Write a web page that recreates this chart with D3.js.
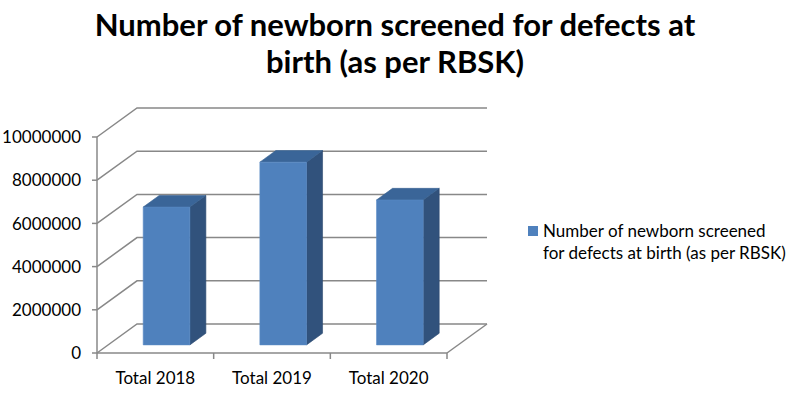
<!DOCTYPE html>
<html><head><meta charset="utf-8">
<script src="https://cdn.jsdelivr.net/npm/d3@7"></script>
<style>body{margin:0;background:#fff}svg{display:block}text{font-family:Lato,"Open Sans",sans-serif}</style>
</head><body><svg id="c" width="798" height="402"></svg>
<script>
const categories = ["Total 2018", "Total 2019", "Total 2020"];
const values = [6380000, 8460000, 6710000];
const tickValues = [0, 2000000, 4000000, 6000000, 8000000, 10000000];
const seriesName = "Number of newborn screened for defects at birth (as per RBSK)";
const titleLines = ["Number of newborn screened for defects at", "birth (as per RBSK)"];

const svg = d3.select("#c");
const x0 = 97, x1 = 447;
const ddx = 40, ddy = -29;
const y = d3.scaleLinear().domain([0, 10000000]).range([353, 137]);
const x = d3.scaleBand().domain(categories).range([x0, x1]).paddingInner(0.6).paddingOuter(0.3);
const xb = d3.scaleBand().domain(categories).range([x0, x1]);
const P = (px, v, z) => [px + ddx * z, y(v) + ddy * z];
const grid = "#888888";

// walls / gridlines
tickValues.forEach(t => {
  const a = P(x0, t, 0), b = P(x0, t, 1), c = P(x1, t, 1);
  svg.append("polyline").attr("points", [a, b, c].map(p => p.join(",")).join(" "))
    .attr("fill", "none").attr("stroke", grid).attr("stroke-width", 1.5);
});
{
  const a = P(x1, 0, 0), b = P(x1, 0, 1);
  svg.append("line").attr("x1", a[0]).attr("y1", a[1]).attr("x2", b[0]).attr("y2", b[1]).attr("stroke", grid).attr("stroke-width", 1.5);
}
svg.append("line").attr("x1", x0).attr("x2", x0).attr("y1", y(10000000)).attr("y2", y(0)).attr("stroke", grid).attr("stroke-width", 1.5);
svg.append("line").attr("x1", x0).attr("x2", x1).attr("y1", y(0)).attr("y2", y(0)).attr("stroke", grid).attr("stroke-width", 1.5);
tickValues.forEach(t => {
  svg.append("line").attr("x1", x0 - 5).attr("x2", x0).attr("y1", y(t)).attr("y2", y(t)).attr("stroke", grid).attr("stroke-width", 1.5);
  svg.append("text").attr("x", 81).attr("y", y(t)).attr("dy", "0.36em").attr("text-anchor", "end")
    .attr("font-size", 17).attr("fill", "#000").text(t);
});
const cuts = categories.map(c => xb(c)).concat([x1]);
cuts.forEach(cx => {
  svg.append("line").attr("x1", cx).attr("x2", cx).attr("y1", y(0)).attr("y2", y(0) + 6).attr("stroke", grid).attr("stroke-width", 1.5);
});
categories.forEach(c => {
  svg.append("text").attr("x", xb(c) + xb.bandwidth() / 2).attr("y", 384).attr("text-anchor", "middle")
    .attr("font-size", 17).attr("fill", "#000").text(c);
});

// bars
const z0 = 0.28, z1 = 0.68;
const poly = pts => pts.map(p => p.join(",")).join(" ");
categories.forEach((c, i) => {
  const v = values[i];
  const bl = x(c), br = x(c) + x.bandwidth();
  const front = [P(bl, 0, z0), P(br, 0, z0), P(br, v, z0), P(bl, v, z0)];
  const side = [P(br, 0, z0), P(br, 0, z1), P(br, v, z1), P(br, v, z0)];
  const top = [P(bl, v, z0), P(br, v, z0), P(br, v, z1), P(bl, v, z1)];
  svg.append("polygon").attr("points", poly(side)).attr("fill", "#31527c").attr("stroke", "#2c4a70").attr("stroke-width", 0.6);
  svg.append("polygon").attr("points", poly(top)).attr("fill", "#3a6598").attr("stroke", "#35608f").attr("stroke-width", 0.6);
  svg.append("polygon").attr("points", poly(front)).attr("fill", "#4f81bd").attr("stroke", "#5b8cc6").attr("stroke-width", 0.6);
});

// title
titleLines.forEach((t, i) => {
  svg.append("text").attr("x", 395).attr("y", 36 + i * 37).attr("text-anchor", "middle")
    .attr("font-size", 31).attr("font-weight", "bold").attr("fill", "#000").text(t);
});

// legend
svg.append("rect").attr("x", 528).attr("y", 226).attr("width", 10).attr("height", 10).attr("fill", "#4f81bd");
const words = seriesName.split(" ");
const legLines = [words.slice(0, 4).join(" "), words.slice(4).join(" ")];
legLines.forEach((t, i) => {
  svg.append("text").attr("x", 543).attr("y", 237 + i * 22).attr("font-size", 17).attr("fill", "#000").text(t);
});
</script></body></html>
